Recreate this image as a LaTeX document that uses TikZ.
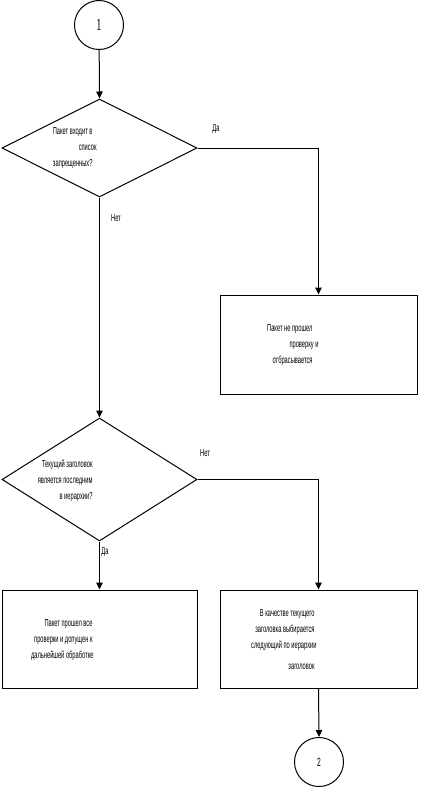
\documentclass[tikz,border=0pt]{standalone}
\usepackage{fontspec}
\setmainfont{Liberation Sans}
\newfontfamily\narrowsans[FakeStretch=0.56]{Liberation Sans}
\newfontfamily\narrowserif[FakeStretch=0.6]{Liberation Serif}
\usetikzlibrary{shapes.geometric,arrows.meta}
\begin{document}
\begin{tikzpicture}[x=1pt,y=-1pt,
  line width=1pt,
  flow/.style={-{Triangle[width=6.5pt,length=7pt]}},
  decision/.style={diamond,draw,inner sep=0pt,minimum width=195pt},
  procbox/.style={rectangle,draw,inner sep=0pt},
  connector/.style={circle,draw,inner sep=0pt,minimum size=49pt},
  txt/.style={inner sep=0pt,align=right,font=\narrowsans\fontsize{10.2}{16}\selectfont},
  lbl/.style={inner sep=0pt,font=\narrowsans\fontsize{10.2}{12}\selectfont}]
\useasboundingbox (0,0) rectangle (443,787);
% shapes
\node[connector] (c1) at (99,25) {\narrowserif\fontsize{17}{17}\selectfont 1};
\node[decision,minimum height=98pt] (d1) at (99.5,148) {};
\node[procbox,minimum width=197pt,minimum height=99pt] (b1) at (318.5,344.5) {};
\node[decision,minimum height=123pt] (d2) at (99.5,479.5) {};
\node[procbox,minimum width=195pt,minimum height=98pt] (b2) at (99.5,639) {};
\node[procbox,minimum width=197pt,minimum height=98pt] (b3) at (318.5,639) {};
\node[connector] (c2) at (319,762) {\narrowsans\fontsize{12}{12}\selectfont 2};
% texts
\node[txt,anchor=north east] (t1) at (97,126.5) {Пакет входит в\kern4pt\\список\\запрещенных?\kern4pt};
\node[txt,anchor=north east] (t2) at (319,324) {Пакет не прошел\kern6pt\\проверку и\\отбрасывается\kern6pt};
\node[txt,anchor=north east] (t3) at (93,459) {Текущий заголовок\\является последним\\в иерархии?};
\node[txt,anchor=north east] (t4) at (94,619) {Пакет прошел все\kern1pt\\проверки и допущен к\kern1pt\\дальнейшей обработке};
\node[txt,anchor=north east] (t5) at (317,609) {В качестве текущего\kern2pt\\заголовка выбирается\kern2pt\\следующий по иерархии\\[5pt]заголовок\kern2pt};
% labels
\node[lbl] (l1) at (216,129) {Да};
\node[lbl] (l2) at (116,218) {Нет};
\node[lbl] (l3) at (205,453) {Нет};
\node[lbl] (l4) at (105,552) {Да};
% connectors
\draw[flow] (c1) -- (d1.north);
\draw[flow] (d1.east) -| (b1.north);
\draw[flow] (d1.south) -- (d2.north);
\draw[flow] (d2.south) -- (b2.north);
\draw[flow] (d2.east) -| (b3.north);
\draw[flow] (b3.south) -- (c2.north);
\end{tikzpicture}
\end{document}
